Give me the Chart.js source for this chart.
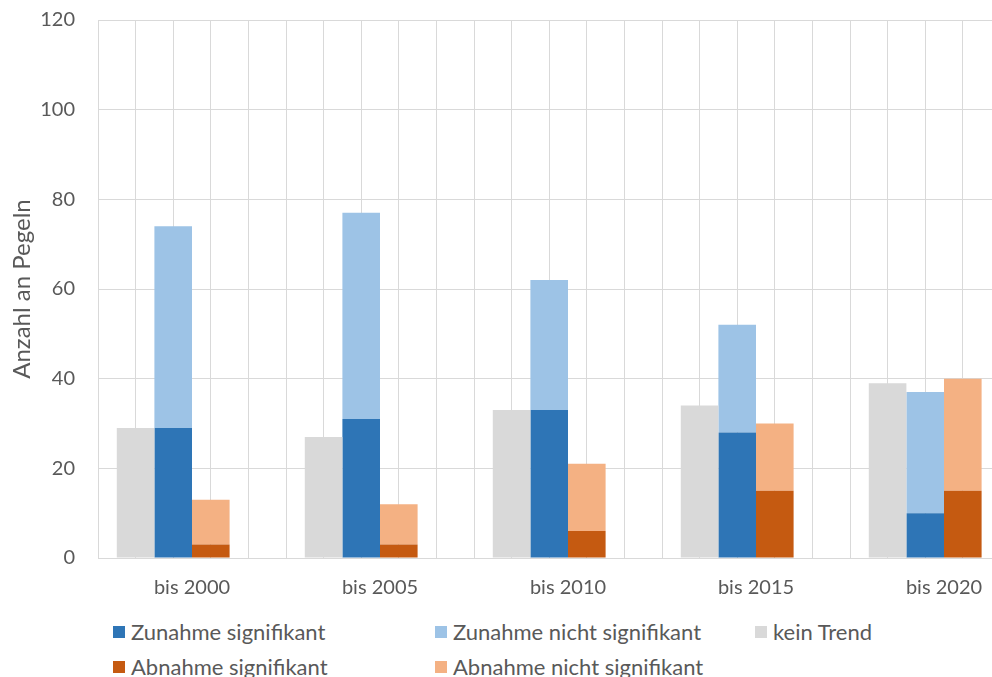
<!DOCTYPE html>
<html>
<head>
<meta charset="utf-8">
<script src="https://cdn.jsdelivr.net/npm/chart.js@4/dist/chart.umd.min.js"></script>
<style>
    html, body { margin: 0; padding: 0; background: #fff; overflow: hidden; }
    #wrap { position: relative; width: 992px; height: 677px; overflow: hidden; }
    #chartBox { position: absolute; left: 0; top: 0; width: 1040px; height: 610px; }
    .legend { position: absolute; left: 0; top: 0; font-family: Lato, "Open Sans", sans-serif; font-size: 22px; color: #595959; }
    .legend .item { position: absolute; white-space: nowrap; line-height: 24px; }
    .legend .sw { position: absolute; left: 0; top: 6px; width: 12px; height: 12px; }
    .legend .lbl { position: absolute; left: 18px; top: 0; }
</style>
</head>
<body>
<div id="wrap">
    <div id="chartBox"><canvas id="trendChart" width="1040" height="610"></canvas></div>
    <div class="legend" id="legend"></div>
</div>
<script>
const categories = ["bis 2000", "bis 2005", "bis 2010", "bis 2015", "bis 2020"];
const keinTrend = [29, 27, 33, 34, 39];
const zunahmeSig = [29, 31, 33, 28, 10];
const zunahmeNichtSig = [45, 46, 29, 24, 27];
const abnahmeSig = [3, 3, 6, 15, 15];
const abnahmeNichtSig = [10, 9, 15, 15, 25];
const emptySlot = [0, 0, 0, 0, 0]; // leerer vierter Stapel wie im Original
const yTicks = [0, 20, 40, 60, 80, 100, 120];

const colors = {
    zunSig: "#2E75B6",
    zunNicht: "#9DC3E6",
    kein: "#D9D9D9",
    abnSig: "#C55A11",
    abnNicht: "#F4B183"
};

// feinere vertikale Gitterlinien (5 je Kategorie)
const subLabels = [];
categories.forEach(c => { for (let i = 0; i < 5; i++) subLabels.push(""); });

const ctx = document.getElementById("trendChart").getContext("2d");
window.trendChart = new Chart(ctx, {
    type: "bar",
    data: {
        labels: categories,
        datasets: [
            { label: "kein Trend", data: keinTrend, backgroundColor: colors.kein, stack: "k" },
            { label: "Zunahme signifikant", data: zunahmeSig, backgroundColor: colors.zunSig, stack: "z" },
            { label: "Zunahme nicht signifikant", data: zunahmeNichtSig, backgroundColor: colors.zunNicht, stack: "z" },
            { label: "Abnahme signifikant", data: abnahmeSig, backgroundColor: colors.abnSig, stack: "a" },
            { label: "Abnahme nicht signifikant", data: abnahmeNichtSig, backgroundColor: colors.abnNicht, stack: "a" },
            { label: "", data: emptySlot, backgroundColor: "rgba(0,0,0,0)", stack: "e" }
        ]
    },
    options: {
        responsive: false,
        animation: false,
        devicePixelRatio: 1,
        layout: { padding: { left: 0, top: 20, right: 2, bottom: 0 } },
        datasets: { bar: { categoryPercentage: 0.8, barPercentage: 1.0, borderWidth: 0 } },
        plugins: { legend: { display: false }, tooltip: { enabled: false } },
        scales: {
            x: {
                stacked: true,
                grid: { display: false, drawTicks: false },
                border: { display: false },
                ticks: { color: "#595959", font: { family: "Lato", size: 20 }, padding: 18 },
                afterFit: s => { s.height = 52; s.paddingLeft = 0; s.paddingRight = 0; }
            },
            xg: {
                type: "category",
                labels: subLabels,
                position: "bottom",
                grid: { color: "#D9D9D9", lineWidth: 1, drawTicks: false, offset: true },
                border: { display: false },
                ticks: { display: false },
                afterFit: s => { s.height = 0; s.paddingLeft = 0; s.paddingRight = 0; }
            },
            y: {
                stacked: true,
                min: 0,
                max: 120,
                afterBuildTicks: s => { s.ticks = yTicks.map(v => ({ value: v })); },
                grid: { color: "#D9D9D9", lineWidth: 1, drawTicks: false },
                border: { display: false },
                ticks: { color: "#595959", font: { family: "Lato", size: 20 }, padding: 23 },
                title: {
                    display: true,
                    text: "Anzahl an Pegeln",
                    color: "#595959",
                    font: { family: "Lato", size: 24 },
                    padding: { top: 8, bottom: 0 }
                },
                afterFit: s => { s.width = 98; s.paddingTop = 0; s.paddingBottom = 0; }
            }
        }
    }
});

// Legende wie im Original (zwei Zeilen, drei Spalten)
const legendItems = [
    { text: "Zunahme signifikant", color: colors.zunSig, x: 113, y: 620 },
    { text: "Zunahme nicht signifikant", color: colors.zunNicht, x: 435, y: 620 },
    { text: "kein Trend", color: colors.kein, x: 755, y: 620 },
    { text: "Abnahme signifikant", color: colors.abnSig, x: 113, y: 655 },
    { text: "Abnahme nicht signifikant", color: colors.abnNicht, x: 435, y: 655 }
];
const legendEl = document.getElementById("legend");
legendItems.forEach(it => {
    const d = document.createElement("div");
    d.className = "item";
    d.style.left = it.x + "px";
    d.style.top = it.y + "px";
    d.innerHTML = '<span class="sw" style="background:' + it.color + '"></span><span class="lbl">' + it.text + '</span>';
    legendEl.appendChild(d);
});
</script>
</body>
</html>
